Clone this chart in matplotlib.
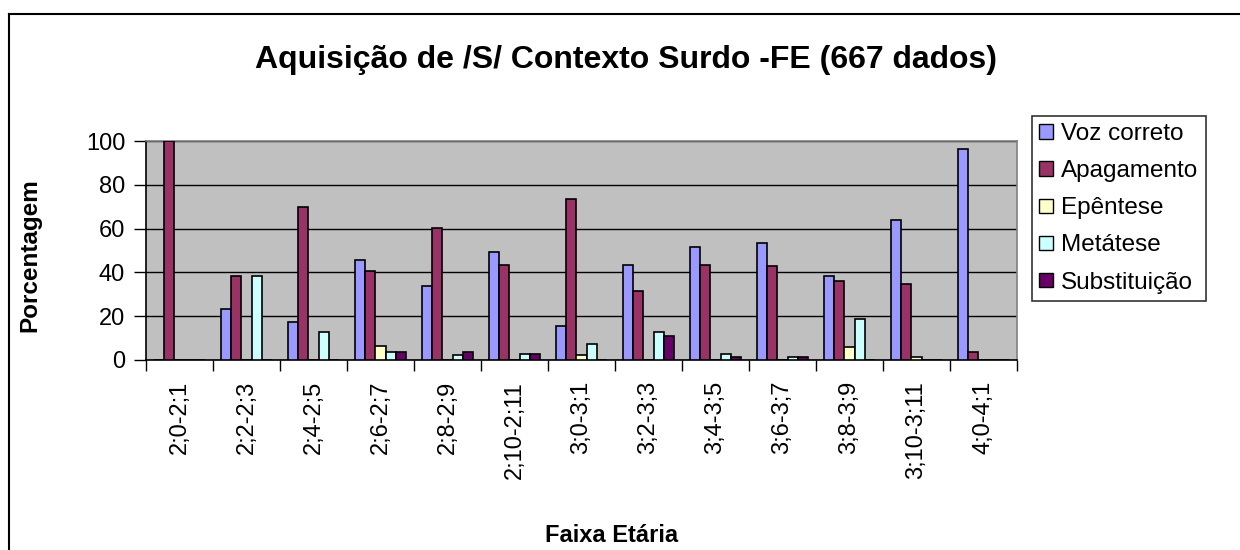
import numpy as np
import matplotlib
matplotlib.use("Agg")
import matplotlib.pyplot as plt
from matplotlib.patches import Patch
from matplotlib.lines import Line2D

plt.rcParams['font.family'] = ['Liberation Sans', 'DejaVu Sans']

# faixas etarias
categories = ['2;0-2;1', '2;2-2;3', '2;4-2;5', '2;6-2;7', '2;8-2;9', '2;10-2;11',
              '3;0-3;1', '3;2-3;3', '3;4-3;5', '3;6-3;7', '3;8-3;9', '3;10-3;11', '4;0-4;1']

voz_correto = [0, 23.1, 17.2, 45.8, 33.8, 49.5, 15.7, 43.5, 51.8, 53.3, 38.4, 63.9, 96.2]
apagamento = [100, 38.4, 69.9, 40.5, 60.1, 43.5, 73.7, 31.5, 43.5, 42.8, 36.1, 34.6, 3.7]
epentese = [0, 0, 0, 6.5, 0, 0, 2.1, 0, 0, 0, 5.8, 1.4, 0]
metatese = [0, 38.4, 12.8, 3.7, 2.1, 2.9, 7.5, 12.8, 2.9, 1.4, 18.7, 0, 0]
substituicao = [0, 0, 0, 3.7, 3.7, 2.9, 0, 11.1, 1.4, 1.4, 0, 0, 0]

series_names = ['Voz correto', 'Apagamento', 'Epêntese', 'Metátese', 'Substituição']
series_vals = [voz_correto, apagamento, epentese, metatese, substituicao]
colors = ['#9999FF', '#993366', '#FFFFCC', '#CCFFFF', '#660066']

fig = plt.figure(figsize=(12.4, 5.5), dpi=100)
ax = fig.add_axes([146/1240, 1 - 360/550, (1017 - 146)/1240, (360 - 141)/550])
ax.set_facecolor('#C0C0C0')

x = np.arange(len(categories))
w = 1 / 6.5  # excel gap width 150%
for i, (vals, c) in enumerate(zip(series_vals, colors)):
    xs = x - 2.5 * w + (i + 0.5) * w
    ax.bar(xs, vals, width=w, color=c, edgecolor='black', linewidth=1.2, zorder=3)

ax.set_xlim(-0.5, len(categories) - 0.5)
ax.set_ylim(0, 100)
ax.set_yticks(np.arange(0, 101, 20))
ax.yaxis.grid(True, color='black', linewidth=1, zorder=1)
ax.set_axisbelow(True)

ax.set_xticks(x)
ax.set_xticklabels(categories, rotation=90, fontsize=17)
ax.set_xticks(np.arange(-0.5, len(categories)), minor=True)
ax.tick_params(axis='x', which='major', length=0, pad=15)
ax.tick_params(axis='x', which='minor', length=8, width=1, color='black', direction='out')
ax.tick_params(axis='y', length=9, width=1, labelsize=17, pad=6, direction='out')

for s in ['top', 'right']:
    ax.spines[s].set_color('#808080')
    ax.spines[s].set_linewidth(1.2)
for s in ['left', 'bottom']:
    ax.spines[s].set_color('black')
    ax.spines[s].set_linewidth(1.2)

fig.text(626/1240, 1 - 60/550, 'Aquisição de /S/ Contexto Surdo -FE (667 dados)',
         fontsize=23, fontweight='bold', ha='center', va='center')
fig.text(30/1240, 1 - 255/550, 'Porcentagem', fontsize=17.5, fontweight='bold',
         rotation=90, ha='center', va='center')
fig.text(612/1240, 1 - 535/550, 'Faixa Etária', fontsize=17, fontweight='bold',
         ha='center', va='center')

handles = [Patch(facecolor=c, edgecolor='black', linewidth=1) for c in colors]
leg = fig.legend(handles, series_names, loc='upper left',
                 bbox_to_anchor=(1032/1240, 1 - 116/550), fontsize=17.5,
                 frameon=True, fancybox=False, shadow=False, borderpad=0.3,
                 handlelength=0.55, handleheight=0.55, handletextpad=0.35,
                 labelspacing=0.62, borderaxespad=0)
leg.get_frame().set_edgecolor('black')
leg.get_frame().set_linewidth(1.2)

# outer chart border (top and left visible)
fig.add_artist(Line2D([9/1240, 9/1240], [0, 1 - 14/550], color='black', linewidth=1.5))
fig.add_artist(Line2D([9/1240, 1], [1 - 14/550, 1 - 14/550], color='black', linewidth=1.5))

plt.savefig('out.png', dpi=100)
